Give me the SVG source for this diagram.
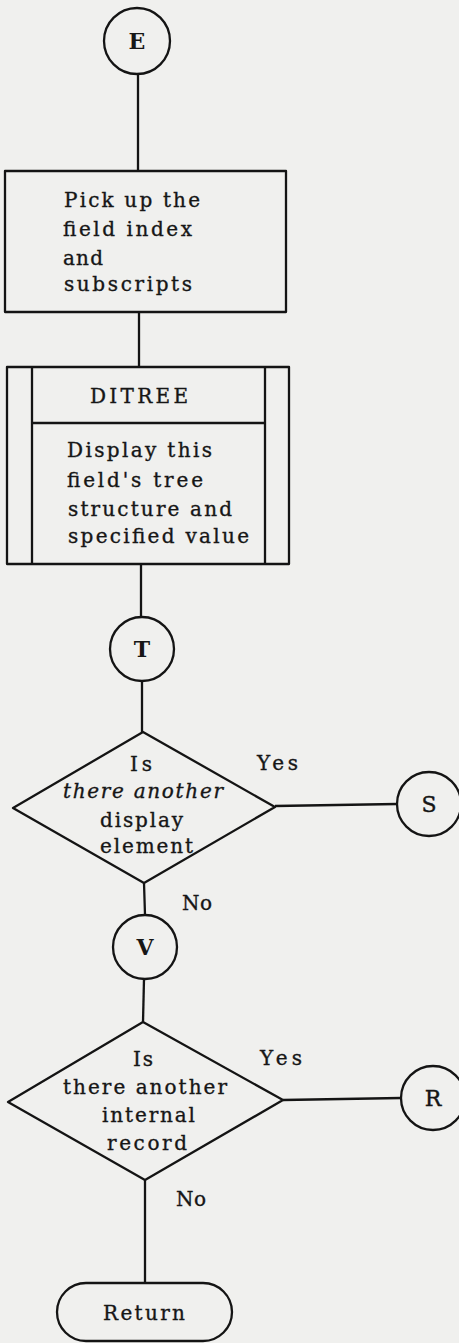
<svg xmlns="http://www.w3.org/2000/svg" width="459" height="1343" viewBox="0 0 459 1343">
<style>
.s{fill:none;stroke:#141414;stroke-width:2.3;stroke-linejoin:round}
.t{font-family:"DejaVu Serif","Liberation Serif",serif;font-size:20px;fill:#161616;stroke:#161616;stroke-width:0.35}
.c{font-family:"DejaVu Serif","Liberation Serif",serif;font-size:22px;fill:#161616;font-weight:bold;text-anchor:middle}
.cn{font-family:"DejaVu Serif","Liberation Serif",serif;font-size:22px;fill:#161616;stroke:#161616;stroke-width:0.4;text-anchor:middle}
</style>
<rect width="459" height="1343" fill="#f0f0ee"/>
<g id="connectors" class="s">
<line x1="138" y1="74" x2="138" y2="171"/>
<line x1="139" y1="312" x2="139" y2="367"/>
<line x1="141" y1="564" x2="141" y2="617"/>
<line x1="142" y1="681" x2="142" y2="732"/>
<line x1="275" y1="806" x2="397" y2="804"/>
<line x1="144" y1="883" x2="145" y2="915"/>
<line x1="144" y1="979" x2="143" y2="1022"/>
<line x1="283" y1="1100" x2="401" y2="1098"/>
<line x1="145" y1="1180" x2="145" y2="1283"/>
</g>
<g id="E">
<circle class="s" cx="137" cy="41" r="33"/>
<text class="c" x="137" y="49">E</text>
</g>
<g id="pickup">
<rect class="s" x="5" y="171" width="281" height="141"/>
<text class="t" x="64" y="207" textLength="136" lengthAdjust="spacing">Pick up the</text>
<text class="t" x="63" y="236" textLength="129" lengthAdjust="spacing">field index</text>
<text class="t" x="63" y="265" textLength="40" lengthAdjust="spacing">and</text>
<text class="t" x="64" y="291" textLength="128" lengthAdjust="spacing">subscripts</text>
</g>
<g id="ditree">
<rect class="s" x="7" y="367" width="282" height="197"/>
<line class="s" x1="32" y1="367" x2="32" y2="564"/>
<line class="s" x1="265" y1="367" x2="265" y2="564"/>
<line class="s" x1="32" y1="423" x2="265" y2="423"/>
<text class="t" x="90" y="403" textLength="98" lengthAdjust="spacing">DITREE</text>
<text class="t" x="67" y="457" textLength="145" lengthAdjust="spacing">Display this</text>
<text class="t" x="67" y="487" textLength="136" lengthAdjust="spacing">field's tree</text>
<text class="t" x="68" y="516" textLength="164" lengthAdjust="spacing">structure and</text>
<text class="t" x="68" y="543" textLength="181" lengthAdjust="spacing">specified value</text>
</g>
<g id="T">
<circle class="s" cx="142" cy="649" r="32"/>
<text class="c" x="142" y="657">T</text>
</g>
<g id="decision1">
<polygon class="s" points="143,732 275,807 144,883 13,808"/>
<text class="t" x="130" y="771" textLength="22" lengthAdjust="spacing">Is</text>
<text class="t" x="63" y="798" textLength="160" lengthAdjust="spacing" font-style="italic">there another</text>
<text class="t" x="100" y="827" textLength="83" lengthAdjust="spacing">display</text>
<text class="t" x="100" y="853" textLength="93" lengthAdjust="spacing">element</text>
<text class="t" x="257" y="770" textLength="41" lengthAdjust="spacing">Yes</text>
<text class="t" x="182" y="910" textLength="30" lengthAdjust="spacing">No</text>
</g>
<g id="S">
<circle class="s" cx="429" cy="804" r="32"/>
<text class="cn" x="429" y="812">S</text>
</g>
<g id="V">
<circle class="s" cx="145" cy="947" r="32"/>
<text class="c" x="145" y="955">V</text>
</g>
<g id="decision2">
<polygon class="s" points="143,1022 283,1100 145,1180 8,1102"/>
<text class="t" x="133" y="1066" textLength="20" lengthAdjust="spacing">Is</text>
<text class="t" x="63" y="1094" textLength="164" lengthAdjust="spacing">there another</text>
<text class="t" x="102" y="1122" textLength="93" lengthAdjust="spacing">internal</text>
<text class="t" x="107" y="1150" textLength="80" lengthAdjust="spacing">record</text>
<text class="t" x="260" y="1065" textLength="42" lengthAdjust="spacing">Yes</text>
<text class="t" x="176" y="1206" textLength="30" lengthAdjust="spacing">No</text>
</g>
<g id="R">
<circle class="s" cx="433" cy="1098" r="32"/>
<text class="cn" x="433" y="1106">R</text>
</g>
<g id="return">
<rect class="s" x="57" y="1283" width="175" height="58" rx="29" ry="29"/>
<text class="t" x="103" y="1320" textLength="82" lengthAdjust="spacing">Return</text>
</g>
</svg>
